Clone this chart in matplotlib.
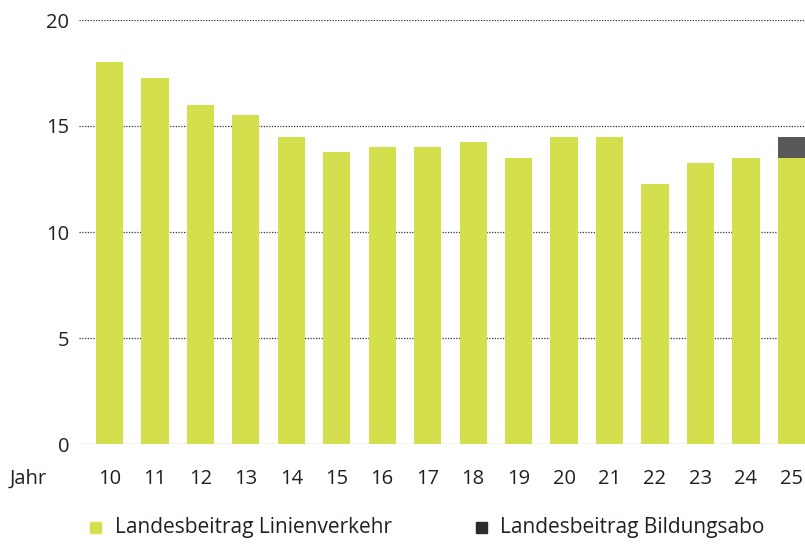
import matplotlib.pyplot as plt
import matplotlib.patches as patches
import numpy as np

plt.rcParams['font.family'] = ['Open Sans', 'DejaVu Sans']

jahre = ["10", "11", "12", "13", "14", "15", "16", "17", "18", "19", "20", "21", "22", "23", "24", "25"]
linienverkehr = [18.0, 17.25, 16.0, 15.5, 14.5, 13.75, 14.0, 14.0, 14.25, 13.5, 14.5, 14.5, 12.25, 13.25, 13.5, 13.5]
bildungsabo = [0, 0, 0, 0, 0, 0, 0, 0, 0, 0, 0, 0, 0, 0, 0, 1.0]
legend_labels = ["Landesbeitrag Linienverkehr", "Landesbeitrag Bildungsabo"]

GRUEN = "#d4df4e"
GRAU = "#58585a"
DUNKEL = "#2d2a2b"

W, H = 805, 544
fig = plt.figure(figsize=(W / 100, H / 100), dpi=100)
ax = fig.add_axes([79 / W, 1 - 444 / H, 1 - 79 / W, (444 - 20) / H])

x = np.arange(len(jahre))
ax.bar(x, linienverkehr, width=0.6, color=GRUEN, zorder=2)
ax.bar(x, bildungsabo, width=0.6, bottom=linienverkehr, color=GRAU, zorder=2)

ax.set_xlim(-0.67, len(jahre) - 1 + 0.3)
ax.set_ylim(0, 20)
ax.set_yticks([0, 5, 10, 15, 20])
for yv in [0, 5, 10, 15, 20]:
    ax.axhline(yv, color="#333333", linewidth=0.9, linestyle=(0, (1, 1.2)), zorder=1)

ax.set_xticks(x)
ax.set_xticklabels(jahre)
for s in ax.spines.values():
    s.set_visible(False)
ax.tick_params(axis="both", length=0, labelsize=14.5, colors="#231f20")
ax.tick_params(axis="y", pad=7)
ax.tick_params(axis="x", pad=18)

fig.text(10 / W, 1 - 479 / H, "Jahr", fontsize=14.5, color="#231f20", va="center", ha="left")

# Legende
for (lx, tx), lab, col in zip([(90, 115), (476, 500)], legend_labels, [GRUEN, DUNKEL]):
    fig.add_artist(patches.Rectangle((lx / W, 1 - 533 / H), 11 / W, 11 / H,
                                     transform=fig.transFigure, color=col))
    fig.text(tx / W, 1 - 528 / H, lab, fontsize=15, color="#231f20", va="center", ha="left")

fig.savefig("out.png", dpi=100)
